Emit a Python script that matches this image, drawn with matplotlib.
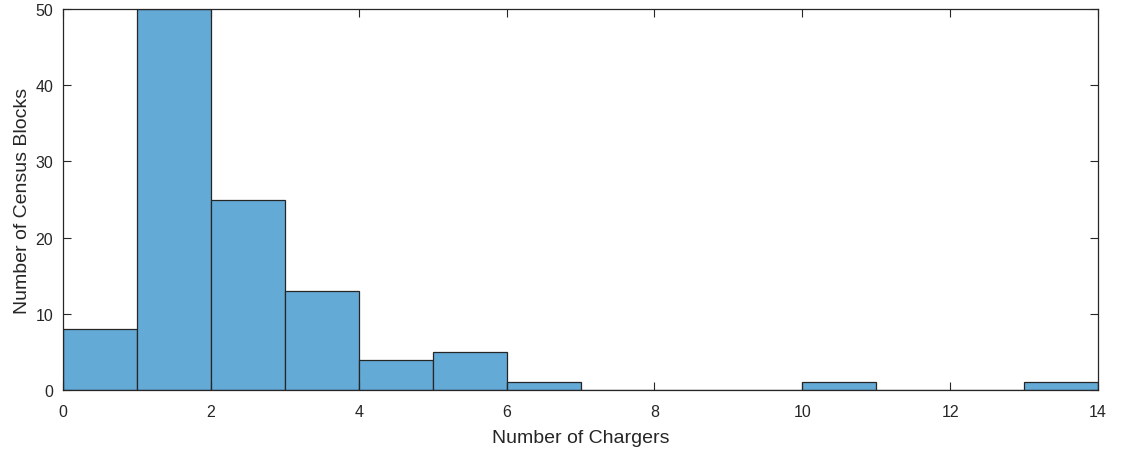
import matplotlib
matplotlib.use("Agg")
import matplotlib.pyplot as plt
import numpy as np

plt.rcParams['font.family'] = ['Liberation Sans', 'DejaVu Sans']

bin_edges = [0, 1, 2, 3, 4, 5, 6, 7, 8, 9, 10, 11, 12, 13, 14]
counts = [8, 50, 25, 13, 4, 5, 1, 0, 0, 0, 1, 0, 0, 1]
xticks = [0, 2, 4, 6, 8, 10, 12, 14]
yticks = [0, 10, 20, 30, 40, 50]

fig = plt.figure(figsize=(11.25, 4.52), dpi=100)
ax = fig.add_axes([63/1125, 1-391/452, (1098-63)/1125, (391-10)/452])

centers = [(a + b) / 2 for a, b in zip(bin_edges[:-1], bin_edges[1:])]
ax.hist(centers, bins=bin_edges, weights=counts, color='#64aad7',
        edgecolor='#262626', linewidth=0.9)

ax.set_xlim(0, 14)
ax.set_ylim(0, 50)
ax.set_xticks(xticks)
ax.set_yticks(yticks)
ax.tick_params(direction='in', top=True, right=True, length=6, width=0.8,
               labelsize=11.5, colors='#262626')
ax.tick_params(axis='x', pad=10)
ax.tick_params(axis='y', pad=7)
for s in ax.spines.values():
    s.set_color('#262626')
    s.set_linewidth(0.9)
ax.set_xlabel('Number of Chargers', fontsize=14, color='#262626', labelpad=7)
ax.set_ylabel('Number of Census Blocks', fontsize=14, color='#262626', labelpad=3)

fig.savefig('out.png', dpi=100)
